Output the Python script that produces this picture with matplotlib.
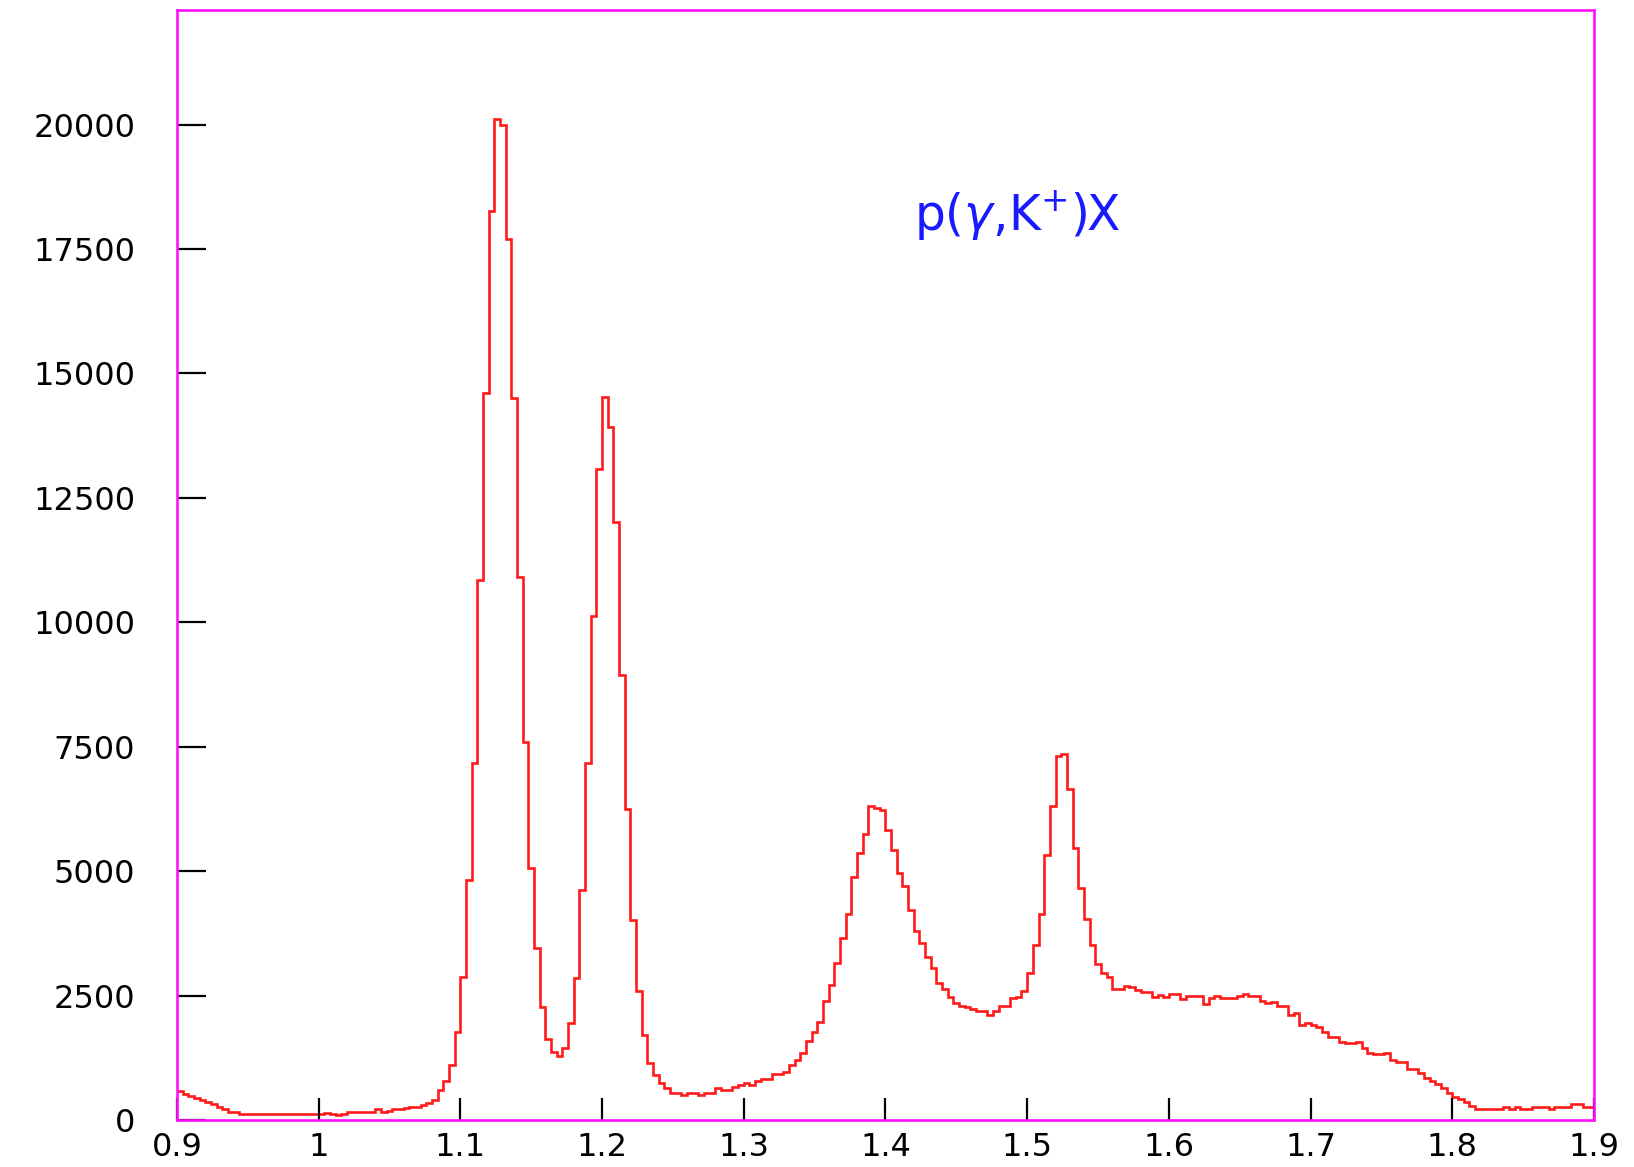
import numpy as np
import matplotlib
matplotlib.use("Agg")
import matplotlib.pyplot as plt

# ------------------ DATOS ------------------
# Histograma de masa faltante p(gamma,K+)X, 250 bins de 0.9 a 1.9
x_min = 0.9
x_max = 1.9
n_bins = 250

cuentas = [
    580, 530, 480, 440, 400, 368, 321, 260, 214, 167,
    167, 110, 110, 110, 110, 110, 110, 110, 110, 110,
    110, 110, 110, 110, 110, 120, 150, 110, 100, 110,
    167, 167, 167, 167, 167, 214, 167, 180, 221, 221,
    240, 268, 268, 301, 348, 402, 602, 784, 1105, 1775,
    2880, 4823, 7168, 10850, 14600, 18260, 20117, 19997, 17700, 14500,
    10900, 7603, 5058, 3450, 2278, 1621, 1373, 1285, 1440, 1943,
    2847, 4622, 7168, 10135, 13080, 14530, 13920, 12015, 8937, 6256,
    4020, 2600, 1708, 1140, 905, 737, 637, 549, 549, 503,
    549, 549, 503, 549, 549, 637, 603, 603, 657, 700,
    740, 710, 788, 828, 828, 930, 930, 960, 1105, 1206,
    1353, 1580, 1775, 1960, 2395, 2713, 3149, 3651, 4135, 4890,
    5365, 5755, 6315, 6270, 6220, 5830, 5426, 4971, 4703, 4221,
    3798, 3564, 3283, 3048, 2747, 2626, 2479, 2345, 2291, 2264,
    2224, 2197, 2197, 2110, 2197, 2291, 2291, 2445, 2479, 2600,
    2955, 3520, 4145, 5326, 6311, 7315, 7356, 6640, 5460, 4666,
    4036, 3520, 3129, 2948, 2867, 2626, 2626, 2700, 2680, 2613,
    2579, 2579, 2479, 2512, 2479, 2532, 2532, 2432, 2492, 2492,
    2492, 2331, 2445, 2492, 2445, 2445, 2445, 2492, 2532, 2492,
    2492, 2398, 2345, 2378, 2291, 2291, 2110, 2144, 1909, 1956,
    1909, 1862, 1775, 1675, 1675, 1574, 1541, 1541, 1574, 1440,
    1340, 1320, 1320, 1340, 1206, 1172, 1172, 1018, 1018, 938,
    838, 784, 717, 636, 549, 469, 415, 368, 281, 221,
    221, 221, 221, 221, 268, 221, 268, 221, 221, 268,
    268, 268, 221, 268, 268, 268, 321, 321, 268, 268,
]

xticks = [0.9, 1.0, 1.1, 1.2, 1.3, 1.4, 1.5, 1.6, 1.7, 1.8, 1.9]
xtick_labels = ["0.9", "1", "1.1", "1.2", "1.3", "1.4", "1.5", "1.6", "1.7", "1.8", "1.9"]
yticks = [0, 2500, 5000, 7500, 10000, 12500, 15000, 17500, 20000]

etiqueta = "p($\\gamma$,K$^{+}$)X"

# ------------------ GRAFICO ------------------
bordes = np.linspace(x_min, x_max, n_bins + 1)

fig = plt.figure(figsize=(16.34, 11.67), dpi=100)
ax = fig.add_axes([0.1083, 0.0403, 0.8672, 0.9511])

ax.stairs(cuentas, bordes, baseline=None, color="#ff1a1a", linewidth=1.9)

ax.set_xlim(x_min, x_max)
ax.set_ylim(0, 22300)
ax.set_xticks(xticks)
ax.set_xticklabels(xtick_labels)
ax.set_yticks(yticks)

# Marco magenta y ticks negros hacia adentro
for s in ax.spines.values():
    s.set_color("#ff11ff")
    s.set_linewidth(1.9)
ax.tick_params(axis="y", direction="in", length=21, width=1.6, color="black",
               labelsize=23, pad=30, right=False)
ax.tick_params(axis="x", direction="in", length=16, width=1.6, color="black",
               labelsize=23, pad=9, top=False)

ax.text(1.493, 17860, etiqueta, color="#1a1aff", fontsize=35,
        ha="center", va="baseline")

fig.savefig("out.png", dpi=100)
